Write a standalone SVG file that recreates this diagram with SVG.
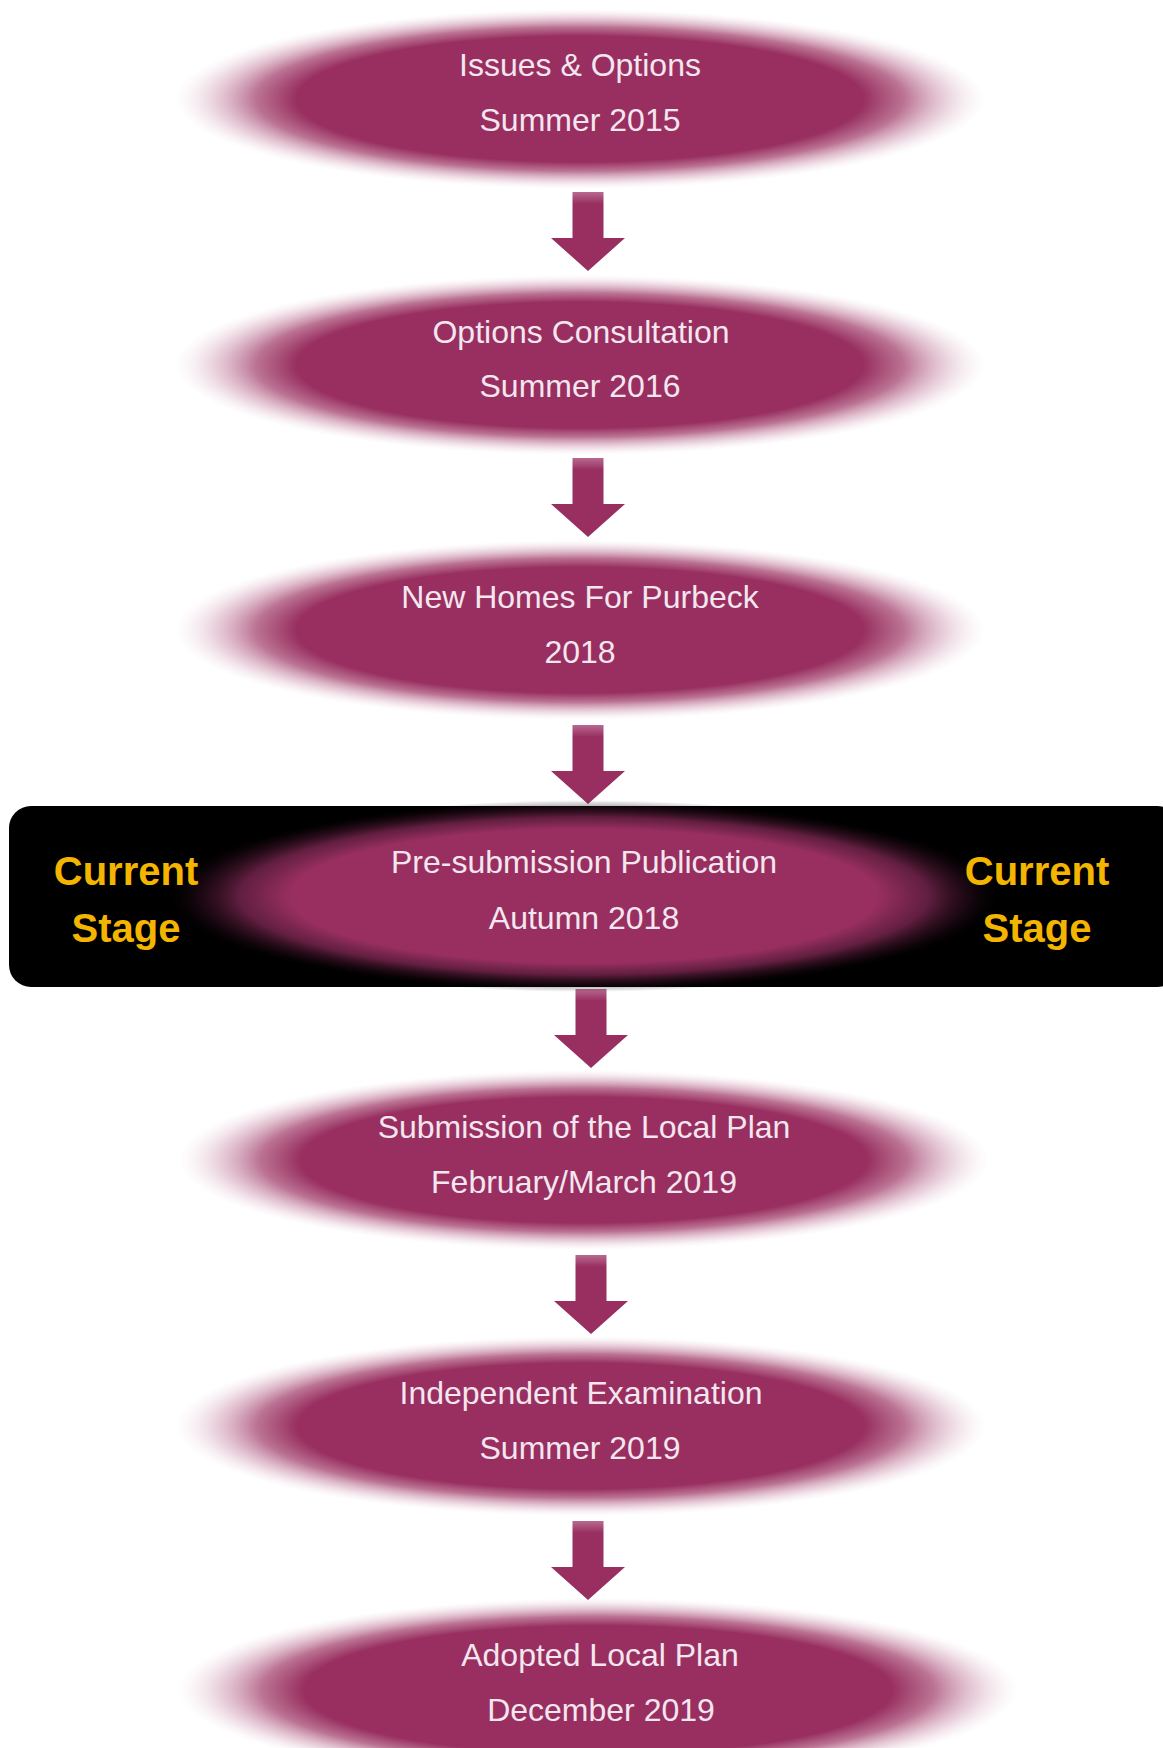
<svg xmlns="http://www.w3.org/2000/svg" width="1163" height="1748" viewBox="0 0 1163 1748">
<defs>
<radialGradient id="soft" cx="0.5" cy="0.5" r="0.5">
<stop offset="0" stop-color="#982f60"/>
<stop offset="0.7" stop-color="#982f60"/>
<stop offset="0.8" stop-color="#a4446f" stop-opacity="0.75"/>
<stop offset="0.91" stop-color="#c88aa6" stop-opacity="0.35"/>
<stop offset="1" stop-color="#e6cdd8" stop-opacity="0"/>
</radialGradient>
<radialGradient id="softdark" cx="0.5" cy="0.5" r="0.5">
<stop offset="0" stop-color="#982f60"/>
<stop offset="0.7" stop-color="#982f60"/>
<stop offset="0.82" stop-color="#7a2650" stop-opacity="0.8"/>
<stop offset="0.92" stop-color="#3a1226" stop-opacity="0.4"/>
<stop offset="1" stop-color="#000000" stop-opacity="0"/>
</radialGradient>
<linearGradient id="shaft" x1="0" y1="0" x2="0" y2="1">
<stop offset="0" stop-color="#b86a90"/>
<stop offset="0.15" stop-color="#982f60"/>
<stop offset="1" stop-color="#982f60"/>
</linearGradient>
<symbol id="arrow" overflow="visible">
<path d="M-15.5,0 H15.5 V46 H37 L0,79 L-37,46 H-15.5 Z" fill="url(#shaft)"/>
</symbol>
</defs>
<style>
.lbl{font-family:"Liberation Sans",Arial,sans-serif;font-size:32px;fill:#f4e6ee;text-anchor:middle}
.cur{font-family:"Liberation Sans",Arial,sans-serif;font-size:40px;font-weight:bold;fill:#f4b500;text-anchor:middle}
</style>
<rect width="1163" height="1748" fill="#ffffff"/>
<g id="current-box">
<rect x="9" y="806" width="1170" height="181" rx="22" fill="#000000"/>
</g>
<g id="connectors">
<use href="#arrow" x="588" y="192"/>
<use href="#arrow" x="588" y="458"/>
<use href="#arrow" x="588" y="725"/>
<use href="#arrow" x="591" y="989"/>
<use href="#arrow" x="591" y="1255"/>
<use href="#arrow" x="588" y="1521"/>
</g>
<g id="n1">
<ellipse cx="580" cy="99" rx="405" ry="90" fill="url(#soft)"/>
<text class="lbl" x="580" y="76">Issues &amp; Options</text>
<text class="lbl" x="580" y="131">Summer 2015</text>
</g>
<g id="n2">
<ellipse cx="580" cy="365" rx="405" ry="90" fill="url(#soft)"/>
<text class="lbl" x="581" y="343">Options Consultation</text>
<text class="lbl" x="580" y="397">Summer 2016</text>
</g>
<g id="n3">
<ellipse cx="580" cy="630" rx="405" ry="90" fill="url(#soft)"/>
<text class="lbl" x="580" y="608">New Homes For Purbeck</text>
<text class="lbl" x="580" y="663">2018</text>
</g>
<g id="n4">
<ellipse cx="584" cy="896" rx="420" ry="96" fill="url(#softdark)"/>
<text class="lbl" x="584" y="873">Pre-submission Publication</text>
<text class="lbl" x="584" y="929">Autumn 2018</text>
<text class="cur" x="126" y="885">Current</text>
<text class="cur" x="126" y="942">Stage</text>
<text class="cur" x="1037" y="885">Current</text>
<text class="cur" x="1037" y="942">Stage</text>
</g>
<g id="n5">
<ellipse cx="584" cy="1160" rx="405" ry="90" fill="url(#soft)"/>
<text class="lbl" x="584" y="1138">Submission of the Local Plan</text>
<text class="lbl" x="584" y="1193">February/March 2019</text>
</g>
<g id="n6">
<ellipse cx="581" cy="1426" rx="405" ry="90" fill="url(#soft)"/>
<text class="lbl" x="581" y="1404">Independent Examination</text>
<text class="lbl" x="580" y="1459">Summer 2019</text>
</g>
<g id="n7">
<ellipse cx="598" cy="1690" rx="420" ry="92" fill="url(#soft)"/>
<text class="lbl" x="600" y="1666">Adopted Local Plan</text>
<text class="lbl" x="601" y="1721">December 2019</text>
</g>
</svg>
